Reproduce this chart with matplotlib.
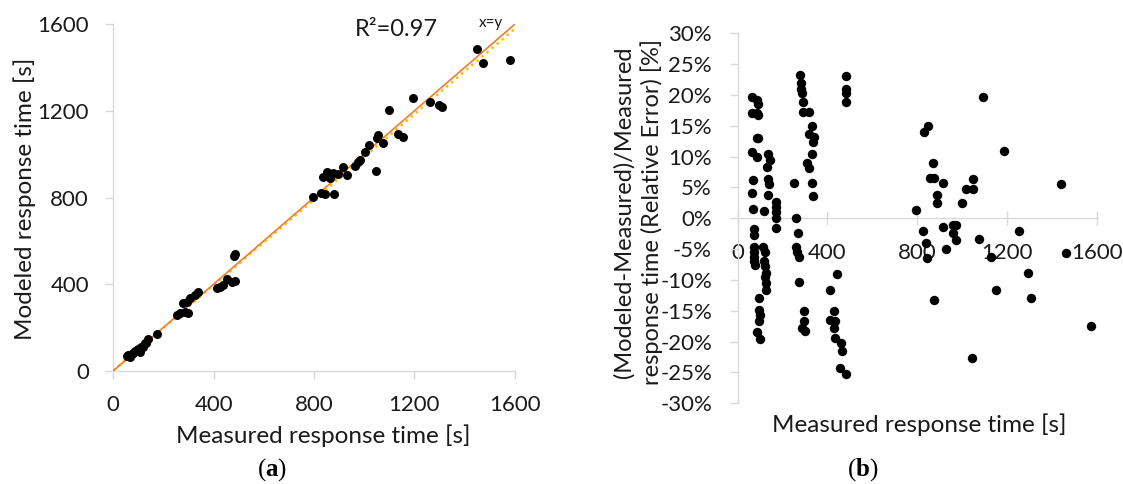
import numpy as np
import matplotlib
matplotlib.use('Agg')
import matplotlib.pyplot as plt
from matplotlib.ticker import MultipleLocator, PercentFormatter

plt.rcParams['font.family'] = ['Lato', 'DejaVu Sans']
plt.rcParams['axes.unicode_minus'] = False
plt.rcParams['mathtext.fontset'] = 'custom'
plt.rcParams['mathtext.rm'] = 'Liberation Serif'
plt.rcParams['mathtext.bf'] = 'Liberation Serif:bold'

# (a) measured vs modeled response time [s]
measured_a = [53, 60, 67, 75, 80, 88, 93, 100, 106, 112, 120, 126, 132, 140, 173,
              253, 266, 285, 299, 279, 293, 306, 326, 339,
              412, 425, 438, 452, 472, 485, 480, 485,
              797, 827, 845, 881, 835, 851, 864, 877, 897, 917, 933, 963, 974, 983,
              1002, 1020, 1048, 1051, 1056, 1076, 1098, 1134, 1156, 1193, 1262, 1297,
              1310, 1448, 1472, 1581]
modeled_a = [68, 72, 65, 75, 80, 92, 96, 100, 88, 108, 111, 126, 130, 145, 170,
             257, 265, 273, 268, 314, 319, 334, 350, 365,
             381, 388, 396, 422, 411, 416, 528, 539,
             802, 819, 815, 818, 896, 919, 889, 912, 907, 940, 905, 947, 963, 973,
             1010, 1044, 922, 1076, 1089, 1050, 1206, 1092, 1079, 1258, 1243, 1229,
             1219, 1485, 1421, 1434]

# (b) measured response time [s] vs relative error [%]
measured_b = [62, 84, 92, 62, 84, 92, 86, 92, 62, 84, 67, 65, 68,
              72, 72, 72, 74, 72, 72, 76, 96, 96, 101, 96, 87, 98,
              117, 136, 144, 130, 134, 138, 134,
              114, 120, 116, 122, 124, 120, 124, 126,
              171, 171, 171, 171, 171,
              253, 260, 268, 262, 266, 274, 275, 294, 294, 286, 300,
              277, 281, 284, 287, 292, 292, 318, 333, 318, 340, 336, 333, 309, 316, 333, 336,
              484, 481, 484, 484, 444, 412, 427, 412, 432, 427, 432, 462, 465, 458, 481,
              796, 832, 850, 872, 855, 877, 914, 887, 887, 998, 1018, 1050, 1050, 1092,
              1189, 1443,
              825, 914, 958, 973, 958, 973, 840, 929, 843, 877, 1074, 1129, 1255, 1292,
              1151, 1307, 1044, 1465, 1576]
rel_error_b = [19.7, 19.2, 18.6, 17.0, 17.0, 16.8, 13.1, 13.1, 10.7, 10.0, 6.2, 4.1, 1.5,
               -1.7, -2.7, -4.6, -5.4, -6.2, -7.0, -7.6, -13.0, -14.9, -15.7, -16.6, -18.4, -19.6,
               1.2, 10.5, 9.4, 8.4, 6.3, 5.5, 3.7,
               -4.6, -5.4, -7.0, -7.8, -8.9, -9.5, -10.5, -11.7,
               2.6, 1.8, 1.0, 0.0, -1.5,
               5.8, 0.0, -2.4, -4.7, -5.5, -6.2, -10.4, -15.0, -16.6, -17.8, -18.3,
               23.2, 22.0, 20.9, 20.3, 18.9, 17.3, 17.3, 15.0, 13.6, 13.2, 12.3, 10.5, 8.9, 8.1, 5.8, 3.6,
               23.1, 20.9, 20.3, 18.8, -9.0, -11.7, -15.0, -16.5, -16.7, -17.8, -19.4, -20.2, -21.5, -24.2, -25.2,
               1.3, 14.0, 15.0, 8.9, 6.5, 6.5, 5.7, 3.8, 2.5, 2.5, 4.75, 4.75, 6.3, 19.7,
               10.9, 5.6,
               -2.1, -1.4, -1.1, -1.1, -2.4, -3.5, -4.0, -5.0, -6.5, -13.3, -3.4, -6.2, -2.0, -8.8,
               -11.7, -12.9, -22.6, -5.7, -17.4]

ticks_time = [0, 400, 800, 1200, 1600]

W, H = 1123, 484
grey = '#d9d9d9'
txt = '#1a1a1a'


def fx(x):
    return x / W


def fy(y):
    return 1 - y / H


fig = plt.figure(figsize=(W / 100, H / 100), dpi=100)

# ---- (a)
ax1 = fig.add_axes([fx(113.3), fy(370.7), (514.7 - 113.3) / W, (370.7 - 24.3) / H])
line = np.array([0, 1600])
xa = np.array(measured_a, dtype=float)
ya = np.array(modeled_a, dtype=float)
slope = (xa * ya).sum() / (xa * xa).sum()  # trend line through the origin
ax1.plot(line, slope * line, color='#FFC000', lw=1.8, ls=':', zorder=2)
ax1.plot(line, line, color='#ED7D31', lw=1.2, zorder=3)
ax1.scatter(measured_a, modeled_a, s=42, color='black', zorder=4, linewidths=0)
ax1.set_xlim(0, 1600)
ax1.set_ylim(0, 1600)
ax1.set_xticks(ticks_time)
ax1.set_yticks(ticks_time)
for s in ['top', 'right']:
    ax1.spines[s].set_visible(False)
for s in ['left', 'bottom']:
    ax1.spines[s].set_color(grey)
    ax1.spines[s].set_linewidth(1.0)
ax1.tick_params(direction='out', length=6, width=1.0, color=grey, labelsize=16,
                labelcolor=txt, pad=11.5)
ax1.text(0.705, 0.985, 'R²=0.97', transform=ax1.transAxes, ha='center', va='center',
         fontsize=17, color=txt)
ax1.text(0.94, 1.005, 'x=y', transform=ax1.transAxes, ha='center', va='center',
         fontsize=11, color=txt)

fig.text(fx(25), fy(199), 'Modeled response time [s]', rotation=90, ha='center',
         va='center', fontsize=17.5, color=txt)
fig.text(fx(323), fy(436), 'Measured response time [s]', ha='center', va='center',
         fontsize=17.5, color=txt)

# ---- (b)
ax2 = fig.add_axes([fx(737.7), fy(403.3), (1096.7 - 737.7) / W, (403.3 - 33.3) / H])
ax2.scatter(measured_b, rel_error_b, s=46, color='black', zorder=4, linewidths=0)
ax2.set_xlim(0, 1600)
ax2.set_ylim(-30, 30)
ax2.set_xticks(ticks_time)
ax2.yaxis.set_major_locator(MultipleLocator(5))
ax2.yaxis.set_major_formatter(PercentFormatter(100, decimals=0))
for s in ['top', 'right']:
    ax2.spines[s].set_visible(False)
ax2.spines['bottom'].set_position(('data', 0))
for s in ['left', 'bottom']:
    ax2.spines[s].set_color(grey)
    ax2.spines[s].set_linewidth(1.0)
ax2.tick_params(axis='y', direction='out', length=6, width=1.0, color=grey,
                labelsize=16, labelcolor=txt, pad=12.5)
ax2.tick_params(axis='x', direction='inout', length=10.5, width=1.0, color=grey,
                labelsize=16, labelcolor=txt, pad=12.5)

fig.text(fx(638), fy(212), '(Modeled-Measured)/Measured\nresponse time (Relative Error) [%]',
         rotation=90, ha='center', va='center', fontsize=17, color=txt,
         linespacing=1.3, multialignment='center')
fig.text(fx(919), fy(425), 'Measured response time [s]', ha='center', va='center',
         fontsize=17.5, color=txt)

# panel labels
fig.text(fx(272), fy(470), r'($\mathbf{a}$)', ha='center', va='center',
         fontsize=18, family='Liberation Serif', color='black')
fig.text(fx(863), fy(470), r'($\mathbf{b}$)', ha='center', va='center',
         fontsize=18, family='Liberation Serif', color='black')

fig.savefig('out.png', dpi=100)
